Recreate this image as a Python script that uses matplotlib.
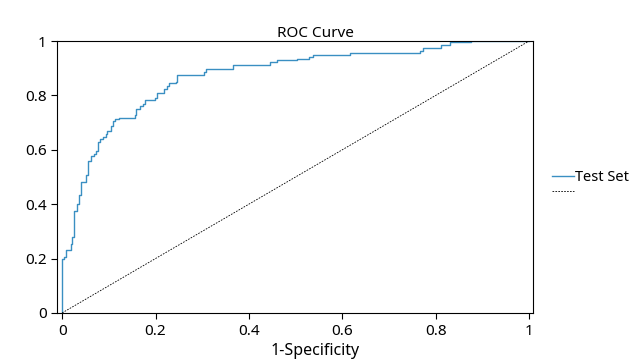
import matplotlib.pyplot as plt

plt.rcParams['font.family'] = ['Noto Sans', 'DejaVu Sans']

# ROC staircase (value after each jump)
fpr = [0, 0, 0.003, 0.008, 0.019, 0.022, 0.026, 0.031, 0.036, 0.040, 0.052,
       0.056, 0.061, 0.069, 0.072, 0.076, 0.080, 0.088, 0.093, 0.097, 0.105,
       0.108, 0.114, 0.122, 0.155, 0.158, 0.167, 0.173, 0.178, 0.198, 0.203,
       0.219, 0.224, 0.228, 0.243, 0.247, 0.303, 0.307, 0.366, 0.445, 0.461,
       0.502, 0.529, 0.537, 0.617, 0.767, 0.772, 0.811, 0.831, 0.875, 1.0]
tpr = [0, 0.197, 0.205, 0.231, 0.252, 0.278, 0.373, 0.401, 0.434, 0.480, 0.506,
       0.560, 0.577, 0.584, 0.595, 0.628, 0.641, 0.647, 0.657, 0.669, 0.689,
       0.706, 0.712, 0.716, 0.728, 0.750, 0.760, 0.770, 0.784, 0.791, 0.809,
       0.825, 0.835, 0.846, 0.851, 0.874, 0.885, 0.898, 0.913, 0.924, 0.930,
       0.933, 0.942, 0.948, 0.955, 0.964, 0.973, 0.985, 0.995, 1.0, 1.0]

ticks = [0, 0.2, 0.4, 0.6, 0.8, 1]
tick_labels = ['0', '0.2', '0.4', '0.6', '0.8', '1']

fig = plt.figure(figsize=(6.3, 3.63), dpi=100)
ax = fig.add_axes([0.0905, 0.138, 0.756, 0.749])

ax.step(fpr, tpr, where='post', color='#3a8fc2', lw=1.0, label='Test Set')
ax.plot([0, 1], [0, 1], color='black', lw=0.6, ls=(0, (2, 1.5)), label=' ')

ax.set_xlim(-0.011, 1.009)
ax.set_ylim(0, 1)
ax.set_xticks(ticks)
ax.set_xticklabels(tick_labels)
ax.set_yticks(ticks)
ax.set_yticklabels(tick_labels)
ax.tick_params(labelsize=11, length=4, width=0.8, direction='out')
ax.tick_params(axis='x', pad=4)
for s in ax.spines.values():
    s.set_linewidth(0.8)

ax.set_title('ROC Curve', fontsize=11, pad=1)
ax.title.set_x(0.542)
ax.set_xlabel('1-Specificity', fontsize=11.5, labelpad=3)
ax.xaxis.label.set_x(0.542)

ax.legend(loc='center left', bbox_to_anchor=(1.0, 0.47), frameon=False,
          fontsize=10.5, handlelength=1.5, handletextpad=0.05,
          labelspacing=0.0, borderaxespad=0.9)

fig.savefig('out.png', dpi=100)
